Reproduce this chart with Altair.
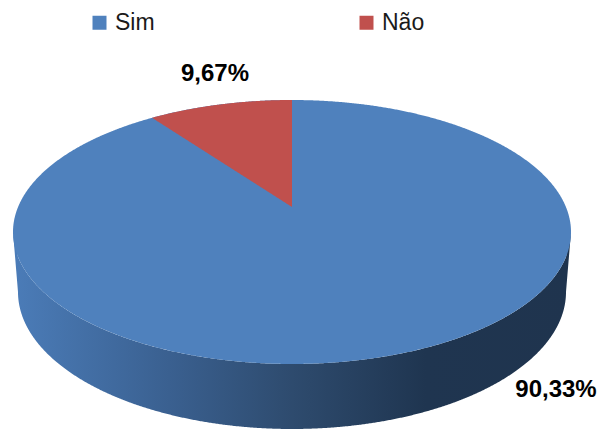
import math
import altair as alt
import pandas as pd

# Survey answers and their printed labels
categories = ["Sim", "Não"]
shares = [90.33, 9.67]
share_labels = ["90,33%", "9,67%"]
colors = ["#4F81BD", "#C0504D"]

# Layout of the tilted disc, in pixels
W, H = 601, 430
CX, CY, RX, RY = 292, 232, 279, 132      # top face
APEX_Y = 207                             # perspective centre of the pie
LOW_CY, LOW_RX, LOW_RY = 292, 274, 137   # rim's lower outline
FORESHORTEN = 0.834                      # angle compression caused by the tilt
LABEL_X = [556, 215]
LABEL_Y = [390, 74]


def top_lower(x):
    d = max(0.0, 1 - ((x - CX) / RX) ** 2)
    return CY + RY * math.sqrt(d)


def top_upper(x):
    d = max(0.0, 1 - ((x - CX) / RX) ** 2)
    return CY - RY * math.sqrt(d)


# Whole top face, drawn first in the colour of the large slice
face_x = [CX + RX * math.cos(math.radians(a / 4)) for a in range(0, 721)]
face = pd.DataFrame({
    "x": face_x,
    "y": [top_upper(x) for x in face_x],
    "y2": [top_lower(x) for x in face_x],
    "answer": categories[0],
})

# Small slice: runs anticlockwise from twelve o'clock by its share of the turn
sweep = math.radians(shares[1] * 3.6)
edge = math.atan(FORESHORTEN * math.tan(sweep))
edge_x = CX - RX * math.sin(edge)
edge_y = top_upper(edge_x)
wedge_x = [edge_x + (CX - edge_x) * i / 200 for i in range(201)]
wedge = pd.DataFrame({
    "x": wedge_x,
    "y": [top_upper(x) for x in wedge_x],
    "y2": [edge_y + (APEX_Y - edge_y) * (x - edge_x) / (CX - edge_x) for x in wedge_x],
    "answer": categories[1],
})

# Visible rim: lower outline of the disc's thickness below the top face
rim_x = [CX - RX] + [CX + LOW_RX * math.cos(math.radians(180 - a / 4)) for a in range(0, 721)] + [CX + RX]
rim_y = []
for i, x in enumerate(rim_x):
    if i == 0 or i == len(rim_x) - 1:
        rim_y.append(CY)
    else:
        rim_y.append(LOW_CY + LOW_RY * math.sqrt(max(0.0, 1 - ((x - CX) / LOW_RX) ** 2)))
rim = pd.DataFrame({"x": rim_x, "y": rim_y, "y2": [top_lower(x) for x in rim_x]})

x_scale = alt.Scale(domain=[0, W], nice=False, zero=False)
y_scale = alt.Scale(domain=[H, 0], nice=False, zero=False)
X = alt.X("x:Q", scale=x_scale, axis=None)
Y = alt.Y("y:Q", scale=y_scale, axis=None)

rim_layer = alt.Chart(rim).mark_area(
    color=alt.Gradient(
        gradient="linear",
        x1=0, x2=1, y1=0, y2=0,
        stops=[
            alt.GradientStop(color="#4B7CB8", offset=0.0),
            alt.GradientStop(color="#3A6090", offset=0.28),
            alt.GradientStop(color="#2E4B6E", offset=0.5),
            alt.GradientStop(color="#1F3550", offset=0.74),
            alt.GradientStop(color="#1F344E", offset=1.0),
        ],
    )
).encode(x=X, y=Y, y2="y2:Q")

color = alt.Color(
    "answer:N",
    scale=alt.Scale(domain=categories, range=colors),
    legend=alt.Legend(
        title=None,
        orient="none",
        legendX=88,
        legendY=11,
        direction="horizontal",
        columns=2,
        columnPadding=200,
        symbolType="square",
        symbolSize=196,
        symbolStrokeWidth=0,
        symbolOpacity=1,
        labelFont="Liberation Sans",
        labelFontSize=23,
        labelColor="#1a1a1a",
        labelOffset=4,
        padding=0,
    ),
)

face_layer = alt.Chart(face).mark_area().encode(x=X, y=Y, y2="y2:Q", color=color)
wedge_layer = alt.Chart(wedge).mark_area().encode(x=X, y=Y, y2="y2:Q", color=color)

labels = pd.DataFrame({"x": LABEL_X, "y": LABEL_Y, "text": share_labels})
label_layer = alt.Chart(labels).mark_text(
    font="Liberation Sans", fontSize=24, fontWeight="bold", color="#000000"
).encode(x=X, y=Y, text="text:N")

chart = (
    alt.layer(rim_layer, face_layer, wedge_layer, label_layer)
    .properties(
        width=W,
        height=H,
        padding=0,
        background="#FFFFFF",
        autosize=alt.AutoSizeParams(type="none"),
    )
    .configure_view(stroke=None)
)

chart.save("out.html", embed_options={"renderer": "svg", "actions": False})
